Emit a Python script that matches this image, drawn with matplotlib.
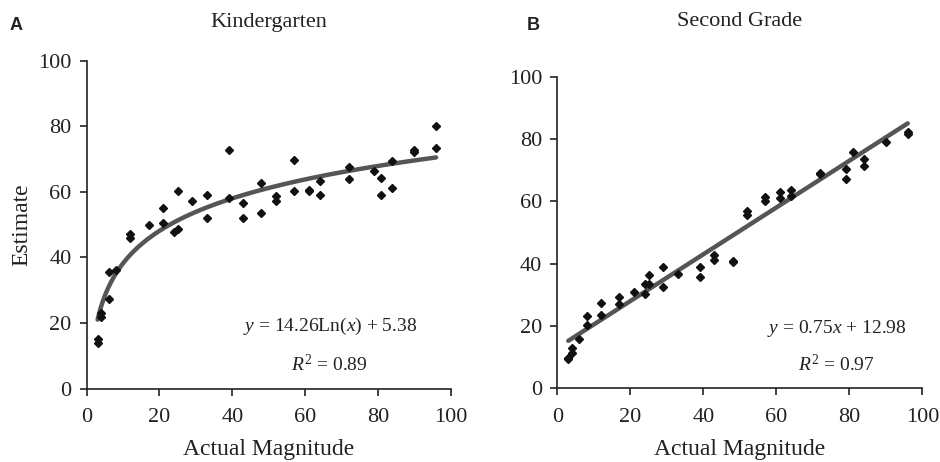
# Magnitude estimates: kindergarten vs second grade
# two scatter panels with fitted trend lines
import matplotlib.pyplot as plt
import numpy as np

# kindergarten estimates
kinder_x = [3, 3, 4, 4, 6, 6, 8, 12, 12, 17, 21, 21, 24, 25, 25, 29, 33, 33, 39, 39,
            43, 43, 48, 48, 52, 52, 57, 57, 61, 61, 64, 64, 72, 72, 79, 81, 81, 84, 84,
            90, 90, 96, 96]
kinder_y = [15.1, 14.0, 23.0, 21.8, 35.6, 27.4, 36.2, 47.2, 46.0, 49.9, 55.0, 50.4, 47.6,
            48.6, 60.3, 57.2, 59.1, 52.1, 72.8, 58.0, 56.7, 52.0, 62.6, 53.5, 58.8, 57.3,
            69.6, 60.3, 60.6, 60.2, 63.3, 59.0, 67.5, 64.0, 66.3, 64.2, 59.1, 69.4, 61.1,
            72.6, 72.1, 80.1, 73.3]

# second grade estimates
second_x = [3, 3, 4, 4, 6, 8, 8, 12, 12, 17, 17, 21, 24, 24, 25, 25, 29, 29, 33, 39, 39,
            43, 43, 48, 48, 52, 52, 57, 57, 61, 61, 64, 64, 72, 72, 79, 79, 81, 84, 84,
            90, 96, 96]
second_y = [9.8, 9.4, 11.2, 13.0, 15.8, 23.1, 20.4, 27.4, 23.5, 29.4, 27.2, 30.9, 33.5,
            30.1, 36.5, 33.3, 38.8, 32.5, 36.8, 38.8, 35.8, 42.7, 41.0, 40.8, 40.4, 56.8,
            55.5, 61.3, 60.0, 63.1, 61.1, 63.5, 61.6, 69.0, 68.6, 70.4, 67.0, 75.9, 73.5,
            71.4, 78.9, 82.3, 81.6]

# fitted coefficients printed on the chart
log_a, log_b = 14.26, 5.38
lin_a, lin_b = 0.75, 12.98

ticks = [0, 20, 40, 60, 80, 100]

SERIF = 'Liberation Serif'
plt.rcParams['font.family'] = SERIF
plt.rcParams['mathtext.fontset'] = 'custom'
plt.rcParams['mathtext.rm'] = SERIF
plt.rcParams['mathtext.it'] = SERIF + ':italic'


def style_axis(ax):
    ax.set_xlim(0, 100)
    ax.set_ylim(0, 100)
    ax.set_xticks(ticks)
    ax.set_yticks(ticks)
    for side in ['top', 'right']:
        ax.spines[side].set_visible(False)
    for side in ['left', 'bottom']:
        ax.spines[side].set_linewidth(1.2)
        ax.spines[side].set_color('#222222')
    ax.tick_params(direction='out', length=5, width=1.2, labelsize=16,
                   colors='#222222')
    ax.tick_params(axis='x', pad=9)
    ax.tick_params(axis='y', pad=6)


def main():
    fig = plt.figure(figsize=(9.4, 4.62), dpi=100)
    ax1 = fig.add_axes([0.0922, 0.1587, 0.3872, 0.7103])
    ax2 = fig.add_axes([0.5929, 0.1595, 0.3883, 0.6749])

    # panel A - log fit
    xs = np.linspace(min(kinder_x), max(kinder_x), 200)
    ax1.plot(xs, log_a * np.log(xs) + log_b, color='#555555', lw=3.2,
             solid_capstyle='round', zorder=2)
    ax1.plot(kinder_x, kinder_y, 'D', color='#111111', ms=4, zorder=3, clip_on=False)
    style_axis(ax1)
    ax1.text(66.8, 18.9, r'$y$ = 14.26Ln($x$) + 5.38', fontsize=14, ha='center',
             va='center', color='#222222')
    ax1.text(66.8, 7.4, r'$R^2$ = 0.89', fontsize=14, ha='center', va='center',
             color='#222222')

    # panel B - linear fit
    xs = np.array([min(second_x), max(second_x)])
    ax2.plot(xs, lin_a * xs + lin_b, color='#555555', lw=3.2,
             solid_capstyle='round', zorder=2)
    ax2.plot(second_x, second_y, 'D', color='#111111', ms=4, zorder=3, clip_on=False)
    style_axis(ax2)
    ax2.text(76.5, 19.2, r'$y$ = 0.75$x$ + 12.98', fontsize=14, ha='center',
             va='center', color='#222222')
    ax2.text(76.5, 7.5, r'$R^2$ = 0.97', fontsize=14, ha='center', va='center',
             color='#222222')

    # titles, axis labels and panel letters
    fig.text(268.7 / 940, 1 - 22 / 462, 'Kindergarten', fontsize=16, ha='center',
             va='center', color='#222222')
    fig.text(739.8 / 940, 1 - 22 / 462, 'Second Grade', fontsize=16, ha='center',
             va='center', color='#222222')
    fig.text(268.7 / 940, 1 - 449 / 462, 'Actual Magnitude', fontsize=17,
             ha='center', va='center', color='#222222')
    fig.text(739.8 / 940, 1 - 449 / 462, 'Actual Magnitude', fontsize=17,
             ha='center', va='center', color='#222222')
    fig.text(22 / 940, 1 - 225 / 462, 'Estimate', fontsize=17, rotation=90,
             ha='center', va='center', color='#222222')
    fig.text(10 / 940, 1 - 25 / 462, 'A', fontsize=13, fontweight='bold',
             family='Liberation Sans', va='center', color='#222222')
    fig.text(527 / 940, 1 - 25 / 462, 'B', fontsize=13, fontweight='bold',
             family='Liberation Sans', va='center', color='#222222')

    plt.savefig('out.png', dpi=100)


main()
